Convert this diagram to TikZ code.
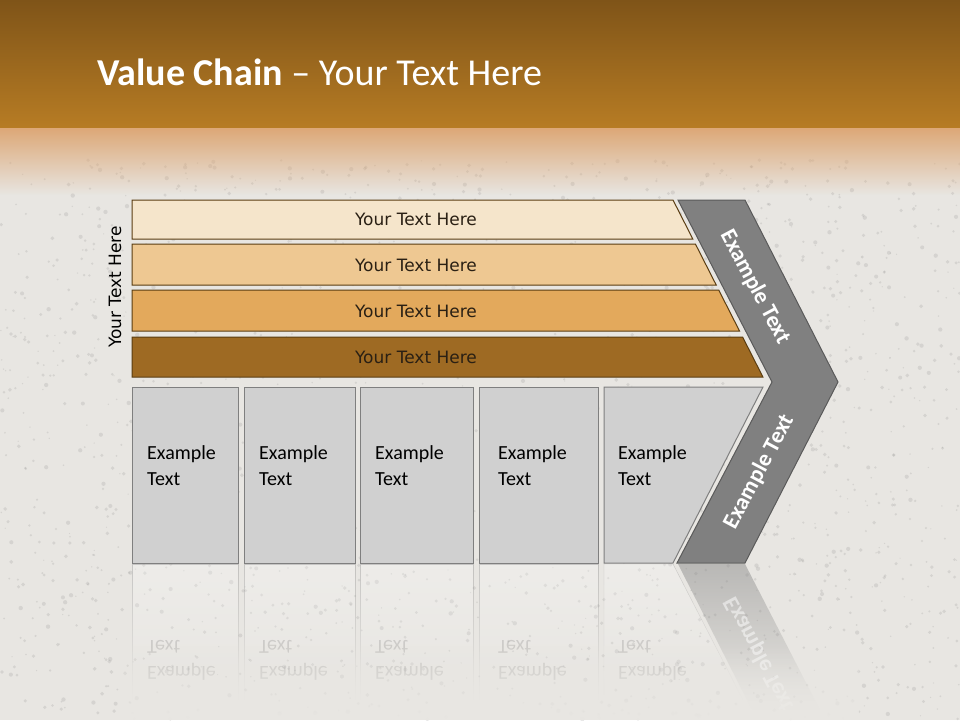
\documentclass[tikz,border=0pt]{standalone}
\usepackage{fontspec}
\setmainfont{Carlito}
\newfontfamily\barfont{DejaVu Sans}
\usepackage{graphicx}
\usetikzlibrary{fadings}
\definecolor{hdrTop}{HTML}{7F5418}
\definecolor{hdrBot}{HTML}{B77C24}
\definecolor{peach}{HTML}{DDA877}
\definecolor{bgcol}{HTML}{E8E6E2}
\definecolor{barA}{HTML}{F5E5CB}
\definecolor{barB}{HTML}{EEC892}
\definecolor{barC}{HTML}{E3A95C}
\definecolor{barD}{HTML}{9E6A23}
\definecolor{barEdge}{HTML}{5A3D12}
\definecolor{barText}{HTML}{2A2014}
\definecolor{boxFill}{HTML}{D0D0D0}
\definecolor{boxEdge}{HTML}{7F7F7F}
\definecolor{chevFill}{HTML}{808080}
\definecolor{chevEdge}{HTML}{5A5A5A}
\tikzset{
  barshape/.style={draw=barEdge, line width=1pt},
  bartext/.style={font=\barfont\fontsize{17}{20}\selectfont, text=barText, inner sep=0pt},
  boxshape/.style={fill=boxFill, draw=boxEdge, line width=1pt},
  boxtext/.style={font=\fontsize{20}{26}\selectfont, text=black, anchor=north west, align=left, inner sep=0pt},
  chevtext/.style={font=\bfseries\fontsize{23}{26}\selectfont, text=white, inner sep=0pt},
  reflbox/.style={fill=white, fill opacity=0.25, draw=boxEdge, draw opacity=0.35, path fading=south},
  refltext/.style={font=\fontsize{20}{26}\selectfont, text=black, text opacity=0.12, anchor=south west, align=left, inner sep=0pt}
}
\begin{document}
\begin{tikzpicture}[x=1pt,y=-1pt]
\useasboundingbox (0,0) rectangle (960,720);
% background
\fill[bgcol] (0,0) rectangle (960,720);
\pgfmathsetseed{7}
\foreach \i in {1,...,2200}{
  \pgfmathsetmacro{\px}{480+480*rand}
  \pgfmathsetmacro{\py}{440+280*rand}
  \pgfmathsetmacro{\pr}{0.6+1.6*rnd}
  \fill[gray, opacity=0.18] (\px,\py) circle[radius=\pr];
}
\shade[top color=hdrTop, bottom color=hdrBot] (-5,0) rectangle (965,128);
\fill[peach, path fading=south] (-20,128) rectangle (980,195);
% title
\node[anchor=base west, inner sep=0pt, text=white, font=\fontsize{38}{42}\selectfont] (title) at (97,85) {\textbf{Value Chain} – Your Text Here};
% vertical label
\node[bartext, text=black, rotate=90] (side) at (115,287) {Your Text Here};
% bars
\fill[barA, barshape] (132,200) -- (673,200) -- (692.8,239) -- (132,239) -- cycle;
\fill[barB, barshape] (132,244) -- (695.4,244) -- (716.2,285) -- (132,285) -- cycle;
\fill[barC, barshape] (132,290) -- (718.7,290) -- (739.5,331) -- (132,331) -- cycle;
\fill[barD, barshape] (132,337) -- (742.6,337) -- (762.9,377) -- (132,377) -- cycle;
\node[bartext] (b1) at (416,219) {Your Text Here};
\node[bartext] (b2) at (416,265) {Your Text Here};
\node[bartext] (b3) at (416,311) {Your Text Here};
\node[bartext] (b4) at (416,357) {Your Text Here};
% chevron
\fill[chevFill, draw=chevEdge, line width=1pt] (678,200) -- (745,200) -- (838,382) -- (745,563) -- (677,563) -- (772,382) -- cycle;
\node[chevtext, rotate=-62] (c1) at (755,287) {Example Text};
\node[chevtext, rotate=62] (c2) at (759,472) {Example Text};
% boxes
\path[boxshape] (132,387) rectangle (238,563);
\path[boxshape] (244,387) rectangle (355,563);
\path[boxshape] (360,387) rectangle (473,563);
\path[boxshape] (479,387) rectangle (598,563);
\path[boxshape] (604,387) -- (763,387) -- (673,563) -- (604,563) -- cycle;
\node[boxtext] (t1) at (147,445) {Example\\Text};
\node[boxtext] (t2) at (259,445) {Example\\Text};
\node[boxtext] (t3) at (375,445) {Example\\Text};
\node[boxtext] (t4) at (498,445) {Example\\Text};
\node[boxtext] (t5) at (618,445) {Example\\Text};
% reflection
\path[reflbox] (132,564) rectangle (238,700);
\path[reflbox] (244,564) rectangle (355,700);
\path[reflbox] (360,564) rectangle (473,700);
\path[reflbox] (479,564) rectangle (598,700);
\path[reflbox] (604,564) -- (673,564) -- (743,700) -- (604,700) -- cycle;
\fill[chevFill, fill opacity=0.45, path fading=south] (678,564) -- (745,564) -- (820,710) -- (752,710) -- cycle;
\foreach \xx/\nm in {147/r1, 259/r2, 375/r3, 498/r4, 618/r5}{
  \node[refltext] (\nm) at (\xx,681) {\scalebox{1}[-1]{\parbox{80pt}{Example\\Text}}};
}
\node[chevtext, rotate=-62, text opacity=0.5] (rc) at (759,654) {\scalebox{1}[-1]{Example Text}};
\fill[bgcol, path fading=north] (120,645) rectangle (860,720);
\end{tikzpicture}
\end{document}
